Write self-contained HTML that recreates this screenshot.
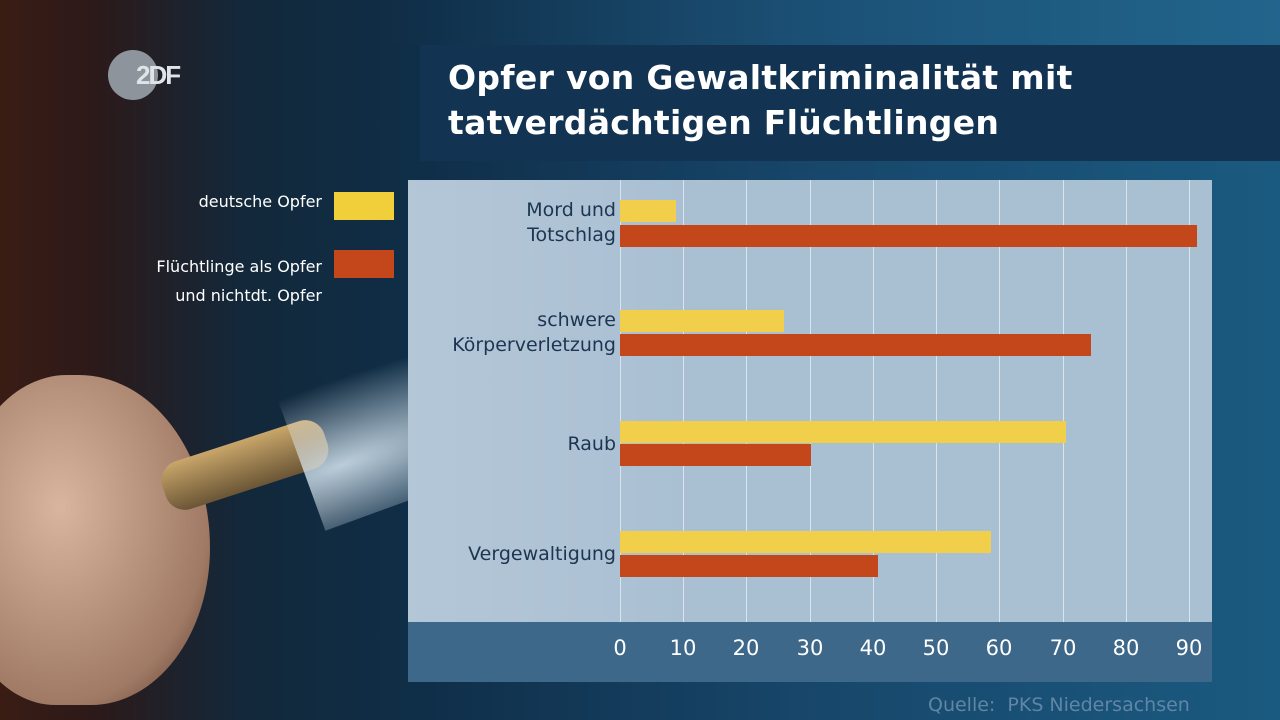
<!DOCTYPE html>
<html><head><meta charset="utf-8"><style>
body{margin:0;width:1280px;height:720px;overflow:hidden;position:relative;font-family:"Liberation Sans","DejaVu Sans",sans-serif;
background:linear-gradient(90deg,#3a1c14 0px,#2b1a1a 100px,#13283a 240px,#0f2e48 420px,#17466a 800px,#1b5a80 1280px);}
.a{position:absolute}
.t{color:#fff;font-size:33px;font-weight:bold;line-height:45px;font-family:"DejaVu Sans",sans-serif;letter-spacing:0.3px}
.lab{color:#1d3550;font-size:19px;text-align:right;line-height:25px;font-family:"DejaVu Sans",sans-serif;}
.g{position:absolute;top:0;width:1px;height:442px;background:#d8e4ee}
.y{background:#f1cf4a;height:22px;position:absolute;left:212px}
.o{background:#c3471b;height:22px;position:absolute;left:212px}
.tick{position:absolute;top:14px;color:#fff;font-size:21px;width:40px;margin-left:-20px;text-align:center;font-family:"DejaVu Sans",sans-serif}
</style></head><body>
<div class="a" style="left:0;top:0;width:1280px;height:45px;background:linear-gradient(90deg,rgba(0,0,0,0) 30%,rgba(40,110,150,.5))"></div>
<div class="a" style="left:420px;top:45px;width:860px;height:116px;background:#123352"></div>
<div class="a t" style="left:448px;top:55px">Opfer von Gewaltkriminalität mit<br>tatverdächtigen Flüchtlingen</div>
<div class="a" style="left:108px;top:50px;width:50px;height:50px;border-radius:50%;background:#8e949c"></div>
<div class="a" style="left:136px;top:60px;color:#e0e4e8;font-weight:bold;font-size:26px;letter-spacing:-2px">2DF</div>
<div class="a" style="left:100px;top:192px;width:222px;text-align:right;color:#fff;font-size:16px;font-family:'DejaVu Sans',sans-serif">deutsche Opfer</div>
<div class="a" style="left:334px;top:192px;width:60px;height:28px;background:#f1cf3a"></div>
<div class="a" style="left:80px;top:252px;width:242px;text-align:right;color:#fff;font-size:16px;line-height:29px;font-family:'DejaVu Sans',sans-serif">Flüchtlinge als Opfer<br>und nichtdt. Opfer</div>
<div class="a" style="left:334px;top:250px;width:60px;height:28px;background:#c3471b"></div>
<!-- hand -->
<div class="a" style="left:-40px;top:375px;width:250px;height:330px;border-radius:45% 55% 50% 40%;background:radial-gradient(ellipse at 40% 40%,#d9b5a0,#a07a64 70%,#4a3029)"></div>
<div class="a" style="left:160px;top:440px;width:170px;height:50px;transform:rotate(-18deg);border-radius:20px;background:linear-gradient(#c9a66a,#6a5535)"></div>
<div class="a" style="left:290px;top:330px;width:380px;height:140px;transform:rotate(-20deg);background:radial-gradient(ellipse at 10% 60%,rgba(230,245,255,.8),rgba(150,200,230,0) 70%)"></div>
<!-- chart -->
<div class="a" style="left:408px;top:180px;width:804px;height:502px;background:#a9bfd2">
 <div class="a" style="left:0;top:0;width:300px;height:442px;background:linear-gradient(90deg,rgba(255,255,255,.12),rgba(255,255,255,0))"></div>
 <div class="a" style="left:0;top:442px;width:804px;height:60px;background:#3d6889"></div>
 <div class="g" style="left:212px"></div><div class="g" style="left:275px"></div><div class="g" style="left:338px"></div><div class="g" style="left:402px"></div><div class="g" style="left:465px"></div><div class="g" style="left:528px"></div><div class="g" style="left:591px"></div><div class="g" style="left:655px"></div><div class="g" style="left:718px"></div><div class="g" style="left:781px"></div>
 <div class="y" style="top:20px;width:56px"></div><div class="o" style="top:45px;width:577px"></div>
 <div class="y" style="top:130px;width:164px"></div><div class="o" style="top:154px;width:471px"></div>
 <div class="y" style="top:241px;width:446px"></div><div class="o" style="top:264px;width:191px"></div>
 <div class="y" style="top:351px;width:371px"></div><div class="o" style="top:375px;width:258px"></div>
 <div class="a lab" style="right:596px;top:18px;width:200px">Mord und<br>Totschlag</div>
 <div class="a lab" style="right:596px;top:128px;width:220px">schwere<br>Körperverletzung</div>
 <div class="a lab" style="right:596px;top:252px;width:200px">Raub</div>
 <div class="a lab" style="right:596px;top:362px;width:200px">Vergewaltigung</div>
 <div class="a" style="left:0;top:442px;width:804px;height:60px">
 <div class="tick" style="left:212px">0</div><div class="tick" style="left:275px">10</div><div class="tick" style="left:338px">20</div><div class="tick" style="left:402px">30</div><div class="tick" style="left:465px">40</div><div class="tick" style="left:528px">50</div><div class="tick" style="left:591px">60</div><div class="tick" style="left:655px">70</div><div class="tick" style="left:718px">80</div><div class="tick" style="left:781px">90</div>
 </div>
</div>
<div class="a" style="left:928px;top:694px;color:#5f86a6;font-size:19px;font-family:'DejaVu Sans',sans-serif">Quelle:&nbsp; PKS Niedersachsen</div>
</body></html>
